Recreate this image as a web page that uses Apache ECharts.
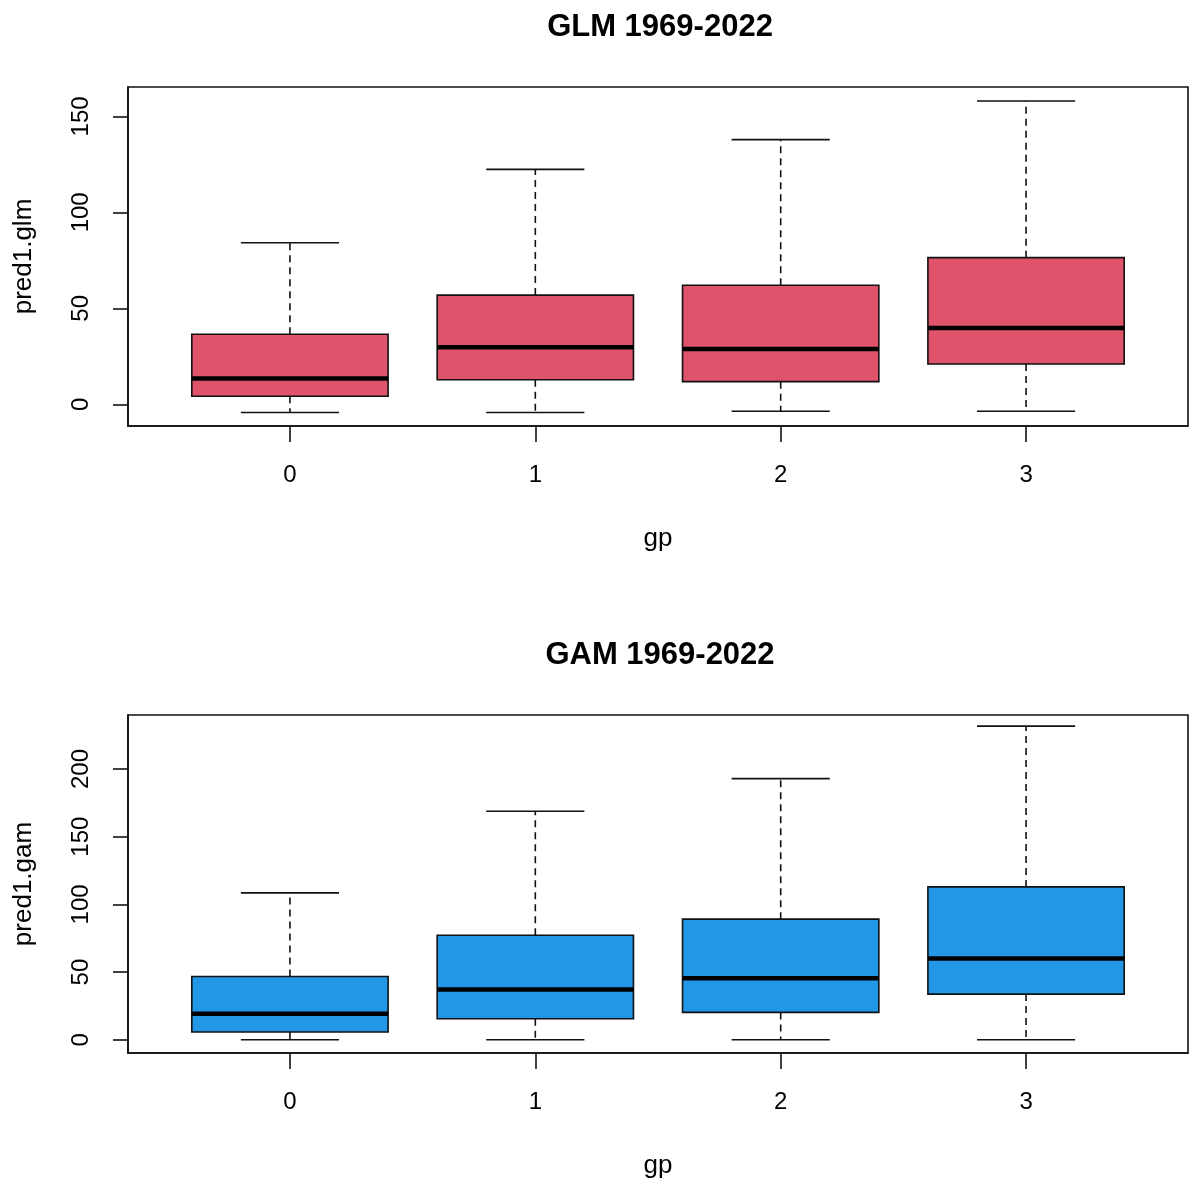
<!DOCTYPE html>
<html>
<head>
<meta charset="utf-8">
<script src="https://cdn.jsdelivr.net/npm/echarts@6/dist/echarts.min.js"></script>
<style>
html,body{margin:0;padding:0;background:#fff;}
#c{width:1189px;height:1182px;}
</style>
</head>
<body>
<div id="c"></div>
<script>
// ---- data ----
var groups = ['0', '1', '2', '3'];
var glmMin = [-4.3, -4.3, -3.6, -3.6];
var glmQ1  = [4.2, 12.8, 11.8, 21.0];
var glmMed = [13.5, 29.7, 28.8, 39.7];
var glmQ3  = [36.5, 56.9, 62.0, 76.4];
var glmMax = [84.2, 122.4, 137.9, 158.0];

var gamMin = [0, 0, 0, 0];
var gamQ1  = [5.7, 15.5, 20.2, 33.7];
var gamMed = [19.2, 37.2, 45.5, 60.0];
var gamQ3  = [46.7, 77.2, 89.1, 112.9];
var gamMax = [108.5, 168.8, 192.9, 231.7];

var glmTicks = [0, 50, 100, 150];
var gamTicks = [0, 50, 100, 150, 200];
var glmRange = [-11.3, 165.3];
var gamRange = [-9.8, 239.9];
var xRange = [0.34, 4.66];
var xPositions = [1, 2, 3, 4];

var FONT = '"Liberation Sans", Arial, sans-serif';
var RED = '#DF536B', BLUE = '#2297E6';

function buildData(mn, q1, md, q3, mx) {
  return groups.map(function (g, i) { return [xPositions[i], mn[i], q1[i], md[i], q3[i], mx[i]]; });
}

function renderBox(color) {
  return function (params, api) {
    var x = api.value(0);
    var pLo = api.coord([x, api.value(1)]);
    var pQ1 = api.coord([x, api.value(2)]);
    var pMd = api.coord([x, api.value(3)]);
    var pQ3 = api.coord([x, api.value(4)]);
    var pHi = api.coord([x, api.value(5)]);
    var bw = api.size([0.8, 0])[0];
    var cw = api.size([0.4, 0])[0];
    var cx = pMd[0];
    var lineS = { stroke: '#111', lineWidth: 1.6 };
    var dashS = { stroke: '#111', lineWidth: 1.6, lineDash: [7, 5] };
    return {
      type: 'group',
      children: [
        { type: 'line', shape: { x1: cx, y1: pQ3[1], x2: cx, y2: pHi[1] }, style: dashS },
        { type: 'line', shape: { x1: cx, y1: pQ1[1], x2: cx, y2: pLo[1] }, style: dashS },
        { type: 'line', shape: { x1: cx - cw / 2, y1: pHi[1], x2: cx + cw / 2, y2: pHi[1] }, style: lineS },
        { type: 'line', shape: { x1: cx - cw / 2, y1: pLo[1], x2: cx + cw / 2, y2: pLo[1] }, style: lineS },
        { type: 'rect', shape: { x: cx - bw / 2, y: pQ3[1], width: bw, height: pQ1[1] - pQ3[1] },
          style: { fill: color, stroke: '#111', lineWidth: 1.6 } },
        { type: 'line', shape: { x1: cx - bw / 2, y1: pMd[1], x2: cx + bw / 2, y2: pMd[1] },
          style: { stroke: '#000', lineWidth: 4.5 } }
      ]
    };
  };
}

function xAxisCfg(gi) {
  return {
    type: 'value', gridIndex: gi, min: xRange[0], max: xRange[1],
    splitLine: { show: false },
    axisLine: { show: true, onZero: false, lineStyle: { color: '#111', width: 1.6 } },
    axisTick: { show: true, customValues: xPositions, length: 16, lineStyle: { color: '#111', width: 1.6 } },
    axisLabel: { customValues: xPositions, margin: 37, color: '#000', fontSize: 24, fontFamily: FONT,
      formatter: function (v) { return groups[Math.round(v) - 1]; } },
    name: 'gp', nameLocation: 'middle', nameGap: 100,
    nameTextStyle: { color: '#000', fontSize: 26, fontFamily: FONT }
  };
}
function yAxisCfg(gi, range, ticks, name) {
  return {
    type: 'value', gridIndex: gi, min: range[0], max: range[1],
    splitLine: { show: false },
    axisLine: { show: true, onZero: false, lineStyle: { color: '#111', width: 1.6 } },
    axisTick: { show: true, customValues: ticks, length: 15, lineStyle: { color: '#111', width: 1.6 } },
    axisLabel: { customValues: ticks, rotate: 90, margin: 35, color: '#000', fontSize: 24, fontFamily: FONT },
    name: name, nameLocation: 'middle', nameRotate: 90, nameGap: 91,
    nameTextStyle: { color: '#000', fontSize: 26, fontFamily: FONT }
  };
}

var chart = echarts.init(document.getElementById('c'), null, { renderer: 'canvas' });
chart.setOption({
  animation: false,
  backgroundColor: '#fff',
  title: [
    { text: 'GLM 1969-2022', left: 655, top: 7, textAlign: 'center',
      textStyle: { fontSize: 31, fontWeight: 'bold', color: '#000', fontFamily: FONT } },
    { text: 'GAM 1969-2022', left: 655, top: 635, textAlign: 'center',
      textStyle: { fontSize: 31, fontWeight: 'bold', color: '#000', fontFamily: FONT } }
  ],
  grid: [
    { left: 128, top: 87, width: 1060, height: 339, show: true, borderColor: '#111', borderWidth: 1.6, backgroundColor: 'transparent' },
    { left: 128, top: 715, width: 1060, height: 338, show: true, borderColor: '#111', borderWidth: 1.6, backgroundColor: 'transparent' }
  ],
  xAxis: [xAxisCfg(0), xAxisCfg(1)],
  yAxis: [yAxisCfg(0, glmRange, glmTicks, 'pred1.glm'), yAxisCfg(1, gamRange, gamTicks, 'pred1.gam')],
  series: [
    { type: 'custom', name: 'GLM', xAxisIndex: 0, yAxisIndex: 0, renderItem: renderBox(RED),
      encode: { x: 0, y: [1, 2, 3, 4, 5] }, data: buildData(glmMin, glmQ1, glmMed, glmQ3, glmMax) },
    { type: 'custom', name: 'GAM', xAxisIndex: 1, yAxisIndex: 1, renderItem: renderBox(BLUE),
      encode: { x: 0, y: [1, 2, 3, 4, 5] }, data: buildData(gamMin, gamQ1, gamMed, gamQ3, gamMax) }
  ]
});
</script>
</body>
</html>
